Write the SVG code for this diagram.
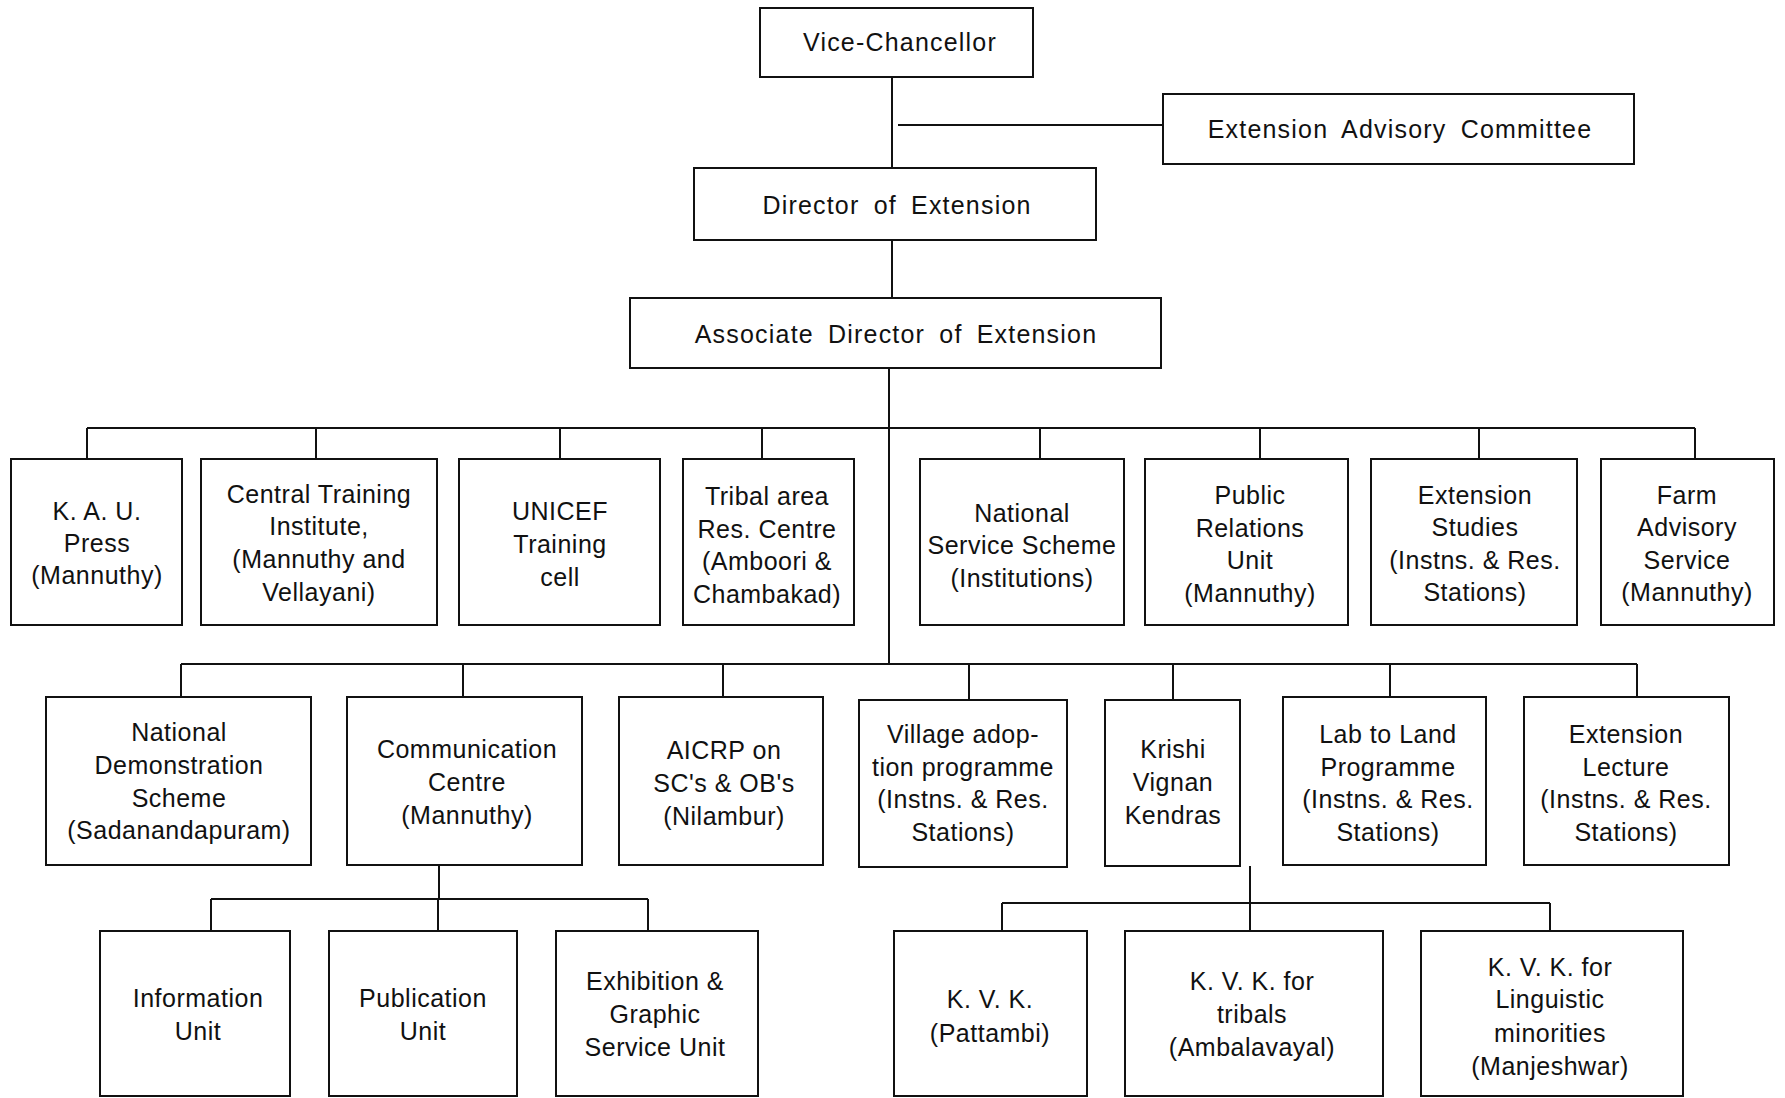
<svg xmlns="http://www.w3.org/2000/svg" width="1785" height="1098" viewBox="0 0 1785 1098">
<style>
.b{fill:#fff;stroke:#111;stroke-width:2}
.c line{stroke:#111;stroke-width:2}
text{font-family:"Liberation Sans",Arial,sans-serif;font-size:25px;fill:#111;text-anchor:middle;letter-spacing:0.5px}
.t{letter-spacing:1.2px;word-spacing:6px}
</style>
<rect width="1785" height="1098" fill="#fff"/>
<g class="c" id="connectors">
<line x1="892" y1="77" x2="892" y2="168"/>
<line x1="898" y1="125" x2="1163" y2="125"/>
<line x1="892" y1="240" x2="892" y2="298"/>
<line x1="889" y1="368" x2="889" y2="664"/>
<line x1="87" y1="428" x2="1695" y2="428"/>
<line x1="87" y1="428" x2="87" y2="459"/>
<line x1="316" y1="428" x2="316" y2="459"/>
<line x1="560" y1="428" x2="560" y2="459"/>
<line x1="762" y1="428" x2="762" y2="459"/>
<line x1="1040" y1="428" x2="1040" y2="459"/>
<line x1="1260" y1="428" x2="1260" y2="459"/>
<line x1="1479" y1="428" x2="1479" y2="459"/>
<line x1="1695" y1="428" x2="1695" y2="459"/>
<line x1="181" y1="664" x2="1637" y2="664"/>
<line x1="181" y1="664" x2="181" y2="697"/>
<line x1="463" y1="664" x2="463" y2="697"/>
<line x1="723" y1="664" x2="723" y2="697"/>
<line x1="969" y1="664" x2="969" y2="700"/>
<line x1="1173" y1="664" x2="1173" y2="700"/>
<line x1="1390" y1="664" x2="1390" y2="697"/>
<line x1="1637" y1="664" x2="1637" y2="697"/>
<line x1="439" y1="865" x2="439" y2="899"/>
<line x1="211" y1="899" x2="648" y2="899"/>
<line x1="211" y1="899" x2="211" y2="931"/>
<line x1="438" y1="899" x2="438" y2="931"/>
<line x1="648" y1="899" x2="648" y2="931"/>
<line x1="1250" y1="866" x2="1250" y2="903"/>
<line x1="1002" y1="903" x2="1550" y2="903"/>
<line x1="1002" y1="903" x2="1002" y2="931"/>
<line x1="1250" y1="903" x2="1250" y2="931"/>
<line x1="1550" y1="903" x2="1550" y2="931"/>
</g>
<g id="vc"><rect class="b" x="760" y="8" width="273" height="69"/><text class="t" x="900" y="51">Vice-Chancellor</text></g>
<g id="eac"><rect class="b" x="1163" y="94" width="471" height="70"/><text class="t" x="1400" y="138">Extension Advisory Committee</text></g>
<g id="doe"><rect class="b" x="694" y="168" width="402" height="72"/><text class="t" x="897" y="214">Director of Extension</text></g>
<g id="ade"><rect class="b" x="630" y="298" width="531" height="70"/><text class="t" x="896" y="343">Associate Director of Extension</text></g>

<g id="kau"><rect class="b" x="11" y="459" width="171" height="166"/><text x="97"><tspan x="97" y="520">K. A. U.</tspan><tspan x="97" y="552">Press</tspan><tspan x="97" y="584">(Mannuthy)</tspan></text></g>
<g id="cti"><rect class="b" x="201" y="459" width="236" height="166"/><text><tspan x="319" y="503">Central Training</tspan><tspan x="319" y="535">Institute,</tspan><tspan x="319" y="568">(Mannuthy and</tspan><tspan x="319" y="601">Vellayani)</tspan></text></g>
<g id="unicef"><rect class="b" x="459" y="459" width="201" height="166"/><text><tspan x="560" y="520">UNICEF</tspan><tspan x="560" y="553">Training</tspan><tspan x="560" y="586">cell</tspan></text></g>
<g id="tribal"><rect class="b" x="683" y="459" width="171" height="166"/><text><tspan x="767" y="505">Tribal area</tspan><tspan x="767" y="538">Res. Centre</tspan><tspan x="767" y="570">(Amboori &amp;</tspan><tspan x="767" y="603">Chambakad)</tspan></text></g>
<g id="nss"><rect class="b" x="920" y="459" width="204" height="166"/><text><tspan x="1022" y="522">National</tspan><tspan x="1022" y="554">Service Scheme</tspan><tspan x="1022" y="587">(Institutions)</tspan></text></g>
<g id="pru"><rect class="b" x="1145" y="459" width="203" height="166"/><text><tspan x="1250" y="504">Public</tspan><tspan x="1250" y="537">Relations</tspan><tspan x="1250" y="569">Unit</tspan><tspan x="1250" y="602">(Mannuthy)</tspan></text></g>
<g id="es"><rect class="b" x="1371" y="459" width="206" height="166"/><text><tspan x="1475" y="504">Extension</tspan><tspan x="1475" y="536">Studies</tspan><tspan x="1475" y="569">(Instns. &amp; Res.</tspan><tspan x="1475" y="601">Stations)</tspan></text></g>
<g id="fas"><rect class="b" x="1601" y="459" width="173" height="166"/><text><tspan x="1687" y="504">Farm</tspan><tspan x="1687" y="536">Advisory</tspan><tspan x="1687" y="569">Service</tspan><tspan x="1687" y="601">(Mannuthy)</tspan></text></g>

<g id="nds"><rect class="b" x="46" y="697" width="265" height="168"/><text><tspan x="179" y="741">National</tspan><tspan x="179" y="774">Demonstration</tspan><tspan x="179" y="807">Scheme</tspan><tspan x="179" y="839">(Sadanandapuram)</tspan></text></g>
<g id="cc"><rect class="b" x="347" y="697" width="235" height="168"/><text><tspan x="467" y="758">Communication</tspan><tspan x="467" y="791">Centre</tspan><tspan x="467" y="824">(Mannuthy)</tspan></text></g>
<g id="aicrp"><rect class="b" x="619" y="697" width="204" height="168"/><text><tspan x="724" y="759">AICRP on</tspan><tspan x="724" y="792">SC's &amp; OB's</tspan><tspan x="724" y="825">(Nilambur)</tspan></text></g>
<g id="vap"><rect class="b" x="859" y="700" width="208" height="167"/><text><tspan x="963" y="743">Village adop-</tspan><tspan x="963" y="776">tion programme</tspan><tspan x="963" y="808">(Instns. &amp; Res.</tspan><tspan x="963" y="841">Stations)</tspan></text></g>
<g id="kvk"><rect class="b" x="1105" y="700" width="135" height="166"/><text><tspan x="1173" y="758">Krishi</tspan><tspan x="1173" y="791">Vignan</tspan><tspan x="1173" y="824">Kendras</tspan></text></g>
<g id="ltl"><rect class="b" x="1283" y="697" width="203" height="168"/><text><tspan x="1388" y="743">Lab to Land</tspan><tspan x="1388" y="776">Programme</tspan><tspan x="1388" y="808">(Instns. &amp; Res.</tspan><tspan x="1388" y="841">Stations)</tspan></text></g>
<g id="el"><rect class="b" x="1524" y="697" width="205" height="168"/><text><tspan x="1626" y="743">Extension</tspan><tspan x="1626" y="776">Lecture</tspan><tspan x="1626" y="808">(Instns. &amp; Res.</tspan><tspan x="1626" y="841">Stations)</tspan></text></g>

<g id="iu"><rect class="b" x="100" y="931" width="190" height="165"/><text><tspan x="198" y="1007">Information</tspan><tspan x="198" y="1040">Unit</tspan></text></g>
<g id="pu"><rect class="b" x="329" y="931" width="188" height="165"/><text><tspan x="423" y="1007">Publication</tspan><tspan x="423" y="1040">Unit</tspan></text></g>
<g id="egsu"><rect class="b" x="556" y="931" width="202" height="165"/><text><tspan x="655" y="990">Exhibition &amp;</tspan><tspan x="655" y="1023">Graphic</tspan><tspan x="655" y="1056">Service Unit</tspan></text></g>
<g id="kvkp"><rect class="b" x="894" y="931" width="193" height="165"/><text><tspan x="990" y="1008">K. V. K.</tspan><tspan x="990" y="1042">(Pattambi)</tspan></text></g>
<g id="kvkt"><rect class="b" x="1125" y="931" width="258" height="165"/><text><tspan x="1252" y="990">K. V. K.  for</tspan><tspan x="1252" y="1023">tribals</tspan><tspan x="1252" y="1056">(Ambalavayal)</tspan></text></g>
<g id="kvkl"><rect class="b" x="1421" y="931" width="262" height="165"/><text><tspan x="1550" y="976">K. V. K.  for</tspan><tspan x="1550" y="1008">Linguistic</tspan><tspan x="1550" y="1042">minorities</tspan><tspan x="1550" y="1075">(Manjeshwar)</tspan></text></g>
</svg>
